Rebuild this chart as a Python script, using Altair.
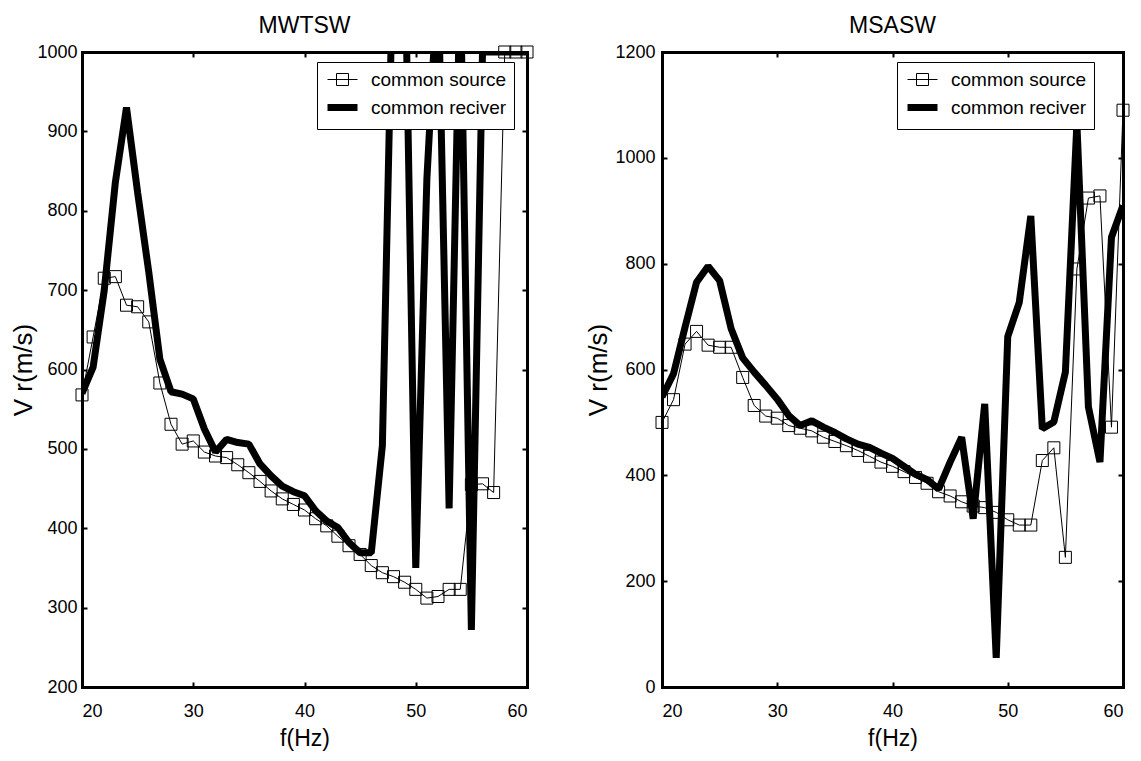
import altair as alt
import pandas as pd

FONT = "Liberation Sans"

freq = list(range(20, 61))

# MWTSW panel (left)
mwtsw_source = [568, 641, 715, 717, 681, 679, 660, 583, 531, 506, 510, 496, 491, 489,
                480, 470, 459, 447, 437, 430, 423, 412, 403, 390, 378, 367, 353, 344,
                339, 332, 323, 312, 314, 323, 323, 455, 456, 445, 1000, 1000, 1000]
mwtsw_receiver = [570, 603, 700, 836, 930, 823, 723, 613, 572, 569, 563, 525, 496, 512,
                  508, 506, 481, 466, 453, 446, 441, 422, 409, 401, 382, 369, 369, 504,
                  1150, 1150, 350, 840, 1100, 425, 1100, 272, 1000, 1000, 1000, 1000, 1000]

# MSASW panel (right)
msasw_source = [500, 543, 648, 672, 646, 642, 642, 585, 532, 512, 508, 494, 489, 484,
                472, 464, 456, 447, 436, 425, 417, 407, 396, 385, 369, 361, 350, 342,
                339, 330, 316, 306, 306, 428, 452, 245, 790, 924, 928, 491, 1090]
msasw_receiver = [548, 592, 680, 765, 795, 768, 677, 622, 595, 570, 544, 513, 494, 503,
                  491, 481, 469, 459, 453, 442, 432, 417, 402, 392, 374, 425, 472, 318,
                  535, 55, 662, 727, 890, 488, 501, 595, 1065, 529, 425, 850, 910]

x_ticks = [20, 30, 40, 50, 60]
mwtsw_yticks = [200, 300, 400, 500, 600, 700, 800, 900, 1000]
msasw_yticks = [0, 200, 400, 600, 800, 1000, 1200]

series_names = ["common source", "common reciver"]
legend_shapes = ["M-1,0H2M-0.1,-0.6H1.1V0.6H-0.1Z", "M-1,0H2"]
legend_widths = [1, 7]

H = 635


def panel(title, src, rec, ydomain, yticks, width, ylabelpad, ytitlepad):
    df_s = pd.DataFrame({"f": freq, "v": src, "series": series_names[0]})
    df_r = pd.DataFrame({"f": freq, "v": rec, "series": series_names[1]})

    xs = alt.Scale(domain=[20, 60], nice=False, zero=False)
    ys = alt.Scale(domain=ydomain, nice=False, zero=False)

    # labelled axes with frame lines (bottom / left)
    x_bottom = alt.Axis(orient="bottom", values=x_ticks, title="f(Hz)", ticks=False,
                        format="d", labelPadding=15, titlePadding=7, grid=False)
    y_left = alt.Axis(orient="left", values=yticks, title="V r(m/s)", ticks=False,
                      format="d", labelPadding=ylabelpad, titlePadding=ytitlepad,
                      titleFontSize=26, grid=False)
    # inward ticks on bottom / left edges
    x_in_bottom = alt.Axis(orient="top", offset=-H, values=x_ticks, title=None, labels=False,
                           domain=False, tickSize=5, grid=False)
    y_in_left = alt.Axis(orient="right", offset=-width, values=yticks, title=None, labels=False,
                         domain=False, tickSize=5, grid=False)
    # frame + inward ticks on top / right edges
    x_in_top = alt.Axis(orient="bottom", offset=-H, values=x_ticks, title=None, labels=False,
                        tickSize=5, grid=False)
    y_in_right = alt.Axis(orient="left", offset=-width, values=yticks, title=None, labels=False,
                          tickSize=5, grid=False)

    src_line = alt.Chart(df_s).mark_line(color="black", strokeWidth=1, clip=True).encode(
        x=alt.X("f:Q", scale=xs, axis=x_bottom),
        y=alt.Y("v:Q", scale=ys, axis=y_left),
    )
    src_pts = alt.Chart(df_s).mark_point(shape="square", size=144, filled=False,
                                         color="black", strokeWidth=1, opacity=1).encode(
        x=alt.X("f:Q", scale=xs, axis=x_in_bottom),
        y=alt.Y("v:Q", scale=ys, axis=y_in_left),
    )
    rec_line = alt.Chart(df_r).mark_line(color="black", strokeWidth=7, strokeJoin="bevel",
                                         clip=True).encode(
        x=alt.X("f:Q", scale=xs, axis=x_in_top),
        y=alt.Y("v:Q", scale=ys, axis=y_in_right),
    )
    leg = alt.Legend(title=None, orient="none", legendX=235, legendY=10,
                     symbolSize=400, labelFont=FONT, labelFontSize=19, labelColor="black",
                     labelOffset=20, labelLimit=400, padding=7, rowPadding=3,
                     strokeColor="black", fillColor="white", symbolStrokeColor="black",
                     symbolFillColor="transparent", symbolOpacity=1)
    legend_layer = alt.Chart(df_s).transform_filter(alt.datum.f < 0).mark_point(
        filled=False, color="black", opacity=1).encode(
        x=alt.X("f:Q", scale=xs, axis=None),
        y=alt.Y("v:Q", scale=ys, axis=None),
        shape=alt.Shape("series:N", scale=alt.Scale(domain=series_names, range=legend_shapes),
                        legend=leg),
        strokeWidth=alt.StrokeWidth("series:N",
                                    scale=alt.Scale(domain=series_names, range=legend_widths),
                                    legend=leg),
    )
    return alt.layer(src_line, src_pts, rec_line, legend_layer).resolve_axis(
        x="independent", y="independent"
    ).properties(
        width=width, height=H,
        title=alt.TitleParams(title, fontSize=23, font=FONT, fontWeight="normal",
                              color="black", frame="group", offset=5),
    )


left = panel("MWTSW", mwtsw_source, mwtsw_receiver, [200, 1000], mwtsw_yticks, 445, 5, 0)
right = panel("MSASW", msasw_source, msasw_receiver, [0, 1200], msasw_yticks, 461, 7, 3)

chart = alt.hconcat(left, right, spacing=50).resolve_scale(
    shape="independent", strokeWidth="independent"
).resolve_legend(
    shape="independent", strokeWidth="independent"
).configure_view(stroke=None).configure_axis(
    labelFont=FONT, labelFontSize=18, labelColor="black",
    titleFont=FONT, titleFontSize=23, titleFontWeight="normal", titleColor="black",
    domainColor="black", domainWidth=3, domainCap="square", tickColor="black", tickWidth=2,
).properties(padding={"left": 10, "top": 15, "right": 0, "bottom": 5}, background="white")

chart.save("out.html", embed_options={"renderer": "svg", "actions": False})
